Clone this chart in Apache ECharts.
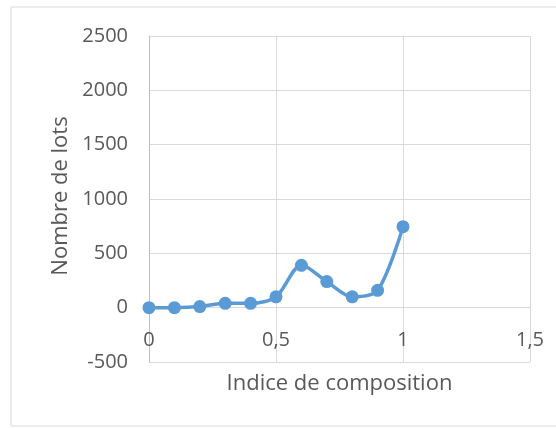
<!DOCTYPE html>
<html>
<head>
<meta charset="utf-8">
<script src="https://cdn.jsdelivr.net/npm/echarts@6/dist/echarts.min.js"></script>
<style>html,body{margin:0;padding:0;background:#fff;}#c{width:556px;height:428px;}</style>
</head>
<body>
<div id="c"></div>
<script>
var indices = [0, 0.1, 0.2, 0.3, 0.4, 0.5, 0.6, 0.7, 0.8, 0.9, 1.0];
var nombreDeLots = [0, 0, 10, 40, 40, 100, 390, 240, 100, 160, 745];
var xTicks = { min: 0, max: 1.5, interval: 0.5 };
var yTicks = { min: -500, max: 2500, interval: 500 };

var chart = echarts.init(document.getElementById('c'), null, {renderer: 'canvas'});
var font = '"Open Sans", sans-serif';
chart.setOption({
  animation: false,
  backgroundColor: '#fff',
  graphic: [{
    type: 'rect', shape: {x: 11, y: 7, width: 560, height: 419},
    style: {fill: 'none', stroke: '#d9d9d9', lineWidth: 1}, silent: true, z: -10
  }],
  grid: {left: 149, right: 26, top: 36, bottom: 66, containLabel: false, outerBoundsMode: 'none'},
  xAxis: {
    type: 'value', min: xTicks.min, max: xTicks.max, interval: xTicks.interval,
    name: 'Indice de composition', nameLocation: 'middle', nameGap: 11,
    nameTextStyle: {fontFamily: font, fontSize: 22, color: '#595959', verticalAlign: 'top'},
    axisLine: {show: false, onZero: false},
    axisTick: {show: false},
    axisLabel: {inside: true, margin: 12, fontFamily: font, fontSize: 20, color: '#595959',
      formatter: function (v) { return String(v).replace('.', ','); }},
    splitLine: {show: true, lineStyle: {color: '#d9d9d9', width: 1}}
  },
  yAxis: {
    type: 'value', min: yTicks.min, max: yTicks.max, interval: yTicks.interval,
    name: 'Nombre de lots', nameLocation: 'middle', nameGap: 76,
    nameTextStyle: {fontFamily: font, fontSize: 22, color: '#595959', padding: [0, 0, 0, 6]},
    axisLine: {show: true, lineStyle: {color: '#bfbfbf', width: 1}},
    axisTick: {show: false},
    axisLabel: {margin: 21, fontFamily: font, fontSize: 20, color: '#595959',
      formatter: function (v) { return String(v); }},
    splitLine: {show: true, lineStyle: {color: '#d9d9d9', width: 1}}
  },
  series: [{
    type: 'line',
    data: indices.map(function (x, i) { return [x, nombreDeLots[i]]; }),
    smooth: 0.3,
    symbol: 'circle', symbolSize: 13,
    lineStyle: {color: '#5B9BD5', width: 3.5},
    itemStyle: {color: '#5B9BD5'}
  }]
});
</script>
</body>
</html>
